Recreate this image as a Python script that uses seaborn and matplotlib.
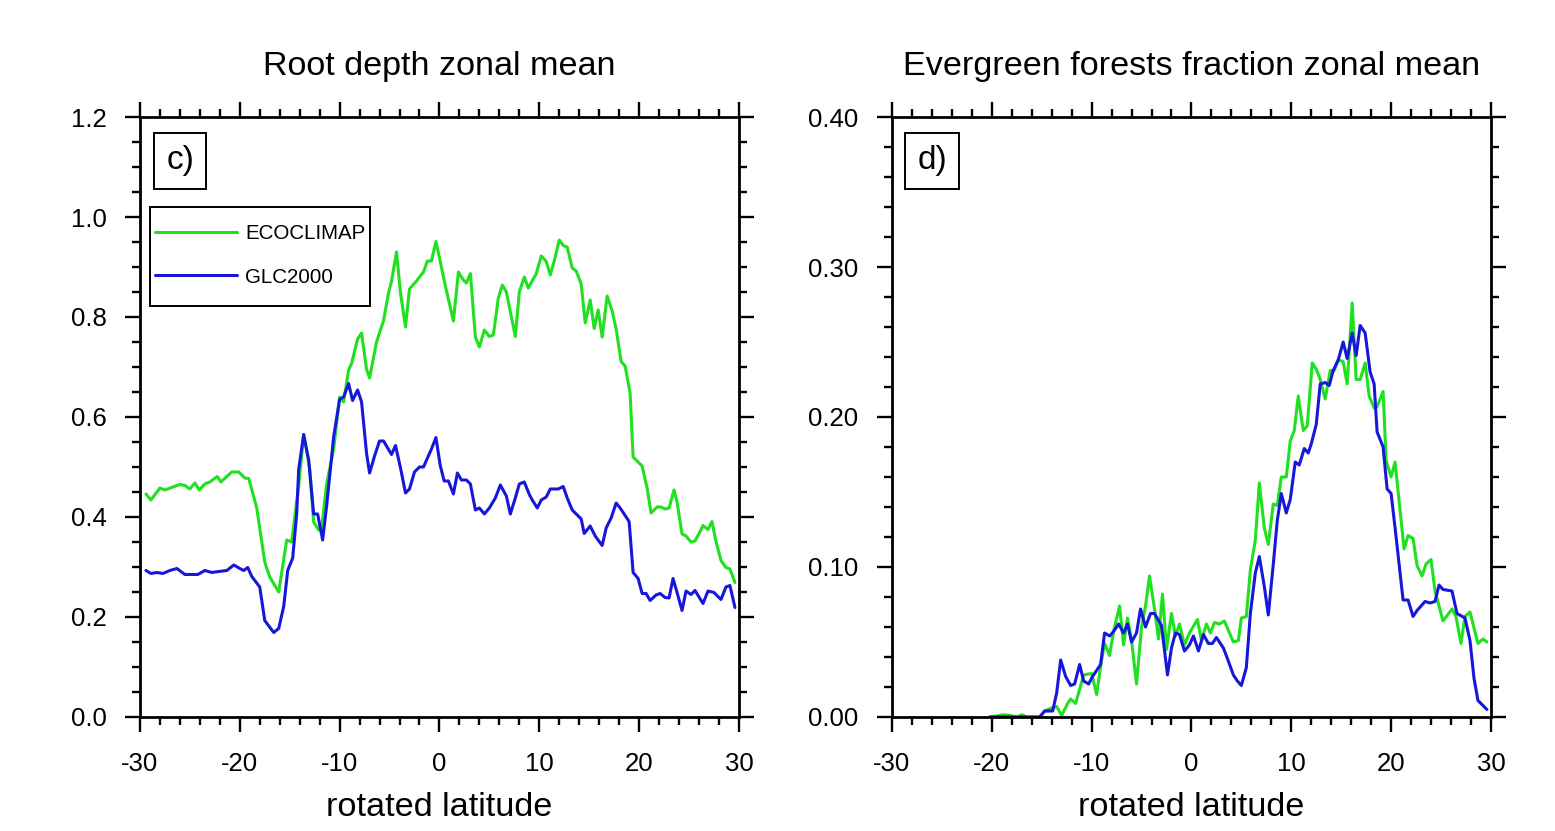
import numpy as np
import pandas as pd
import matplotlib
matplotlib.use("Agg")
import matplotlib.pyplot as plt
from matplotlib.patches import Rectangle
from matplotlib.ticker import MultipleLocator, FormatStrFormatter
import seaborn as sns

# Root depth zonal mean (panel c)
root_eco_lat = [-29.4, -28.9, -28.0, -27.5, -26.7, -26.0, -25.5, -25.0, -24.5, -24.05,
                -23.5, -23.0, -22.25, -21.9, -21.3, -20.8, -20.1, -19.5, -19.1, -18.3,
                -17.5, -17.0, -16.1, -15.3, -14.8, -14.1, -13.6, -13.0, -12.6, -12.1,
                -11.8, -11.3, -10.6, -10.0, -9.6, -9.1, -8.8, -8.2, -7.8, -7.3,
                -7.0, -6.3, -5.6, -5.1, -4.8, -4.3, -3.9, -3.4, -3.0, -2.3,
                -1.6, -1.2, -0.8, -0.35, 0.07, 0.57, 1.4, 1.9, 2.4, 2.7,
                3.1, 3.6, 4.0, 4.5, 5.0, 5.4, 5.9, 6.3, 6.7, 7.2,
                7.6, 8.0, 8.5, 8.9, 9.7, 10.2, 10.7, 11.1, 11.5, 12.0,
                12.4, 12.8, 13.3, 13.7, 14.2, 14.6, 15.1, 15.5, 15.9, 16.3,
                16.8, 17.3, 17.7, 18.2, 18.6, 19.1, 19.4, 19.9, 20.3, 20.8,
                21.2, 21.8, 22.2, 22.6, 23.0, 23.5, 23.8, 24.3, 24.7, 25.2,
                25.6, 26.0, 26.4, 26.9, 27.3, 27.7, 28.2, 28.7, 29.1, 29.6]
root_eco = [0.446, 0.434, 0.458, 0.454, 0.460, 0.465, 0.463, 0.456, 0.468, 0.454,
            0.466, 0.470, 0.481, 0.470, 0.481, 0.490, 0.490, 0.478, 0.477, 0.418,
            0.310, 0.280, 0.250, 0.354, 0.350, 0.462, 0.565, 0.498, 0.390, 0.374,
            0.378, 0.466, 0.535, 0.640, 0.630, 0.694, 0.707, 0.756, 0.768, 0.695,
            0.678, 0.750, 0.793, 0.848, 0.872, 0.930, 0.848, 0.780, 0.856, 0.872,
            0.890, 0.912, 0.912, 0.951, 0.912, 0.864, 0.792, 0.890, 0.874, 0.868,
            0.887, 0.760, 0.740, 0.774, 0.761, 0.764, 0.838, 0.864, 0.850, 0.801,
            0.761, 0.850, 0.880, 0.858, 0.887, 0.922, 0.911, 0.884, 0.912, 0.954,
            0.943, 0.940, 0.898, 0.892, 0.866, 0.788, 0.834, 0.777, 0.814, 0.760,
            0.842, 0.812, 0.776, 0.711, 0.702, 0.647, 0.520, 0.510, 0.502, 0.458,
            0.408, 0.420, 0.420, 0.416, 0.418, 0.454, 0.430, 0.366, 0.362, 0.350,
            0.352, 0.367, 0.383, 0.375, 0.391, 0.351, 0.313, 0.299, 0.296, 0.269]

root_glc_lat = [-29.4, -28.9, -28.3, -27.7, -27.0, -26.3, -25.5, -24.8, -24.2, -23.5,
                -22.8, -22.1, -21.3, -20.6, -20.0, -19.6, -19.2, -18.8, -18.0, -17.5,
                -17.2, -16.6, -16.1, -15.6, -15.2, -14.7, -14.3, -14.1, -13.6, -13.1,
                -12.6, -12.2, -11.7, -11.3, -10.6, -10.0, -9.6, -9.1, -8.7, -8.2,
                -7.8, -7.3, -7.0, -6.5, -6.0, -5.6, -4.8, -4.4, -3.9, -3.4,
                -3.0, -2.5, -2.0, -1.6, -0.8, -0.35, 0.07, 0.47, 0.9, 1.4,
                1.8, 2.2, 2.7, 3.1, 3.6, 4.0, 4.5, 5.0, 5.6, 6.1,
                6.7, 7.1, 7.6, 8.0, 8.5, 9.0, 9.3, 9.8, 10.2, 10.7,
                11.1, 11.9, 12.4, 12.8, 13.3, 14.2, 14.5, 15.1, 15.6, 16.3,
                16.7, 17.2, 17.7, 18.1, 19.0, 19.4, 19.9, 20.3, 20.7, 21.1,
                21.7, 22.1, 22.6, 23.0, 23.4, 23.8, 24.3, 24.7, 25.2, 25.6,
                26.4, 26.9, 27.5, 28.2, 28.7, 29.1, 29.6]
root_glc = [0.293, 0.287, 0.289, 0.287, 0.293, 0.297, 0.285, 0.285, 0.285, 0.293,
            0.289, 0.291, 0.293, 0.304, 0.297, 0.293, 0.299, 0.281, 0.260, 0.193,
            0.185, 0.169, 0.177, 0.221, 0.293, 0.318, 0.406, 0.495, 0.565, 0.514,
            0.406, 0.406, 0.354, 0.422, 0.560, 0.635, 0.640, 0.667, 0.633, 0.654,
            0.630, 0.527, 0.488, 0.522, 0.552, 0.552, 0.525, 0.543, 0.498, 0.448,
            0.456, 0.490, 0.500, 0.500, 0.536, 0.559, 0.504, 0.472, 0.472, 0.446,
            0.488, 0.474, 0.474, 0.466, 0.414, 0.418, 0.406, 0.418, 0.438, 0.464,
            0.442, 0.406, 0.438, 0.466, 0.470, 0.445, 0.434, 0.418, 0.434, 0.440,
            0.456, 0.456, 0.461, 0.438, 0.414, 0.396, 0.367, 0.382, 0.362, 0.343,
            0.378, 0.398, 0.428, 0.418, 0.391, 0.289, 0.277, 0.247, 0.247, 0.233,
            0.244, 0.247, 0.239, 0.238, 0.277, 0.249, 0.213, 0.252, 0.245, 0.253,
            0.227, 0.252, 0.249, 0.235, 0.260, 0.263, 0.219]

# Evergreen forests fraction zonal mean (panel d)
ever_eco_lat = [-20.2, -18.8, -18.2, -17.5, -17.0, -16.5, -15.2, -14.7, -14.0, -13.5,
                -13.0, -12.4, -12.1, -11.6, -10.8, -10.0, -9.5, -9.0, -8.7, -8.2,
                -7.8, -7.2, -6.8, -6.4, -6.0, -5.5, -5.0, -4.6, -4.2, -3.7,
                -3.3, -2.9, -2.5, -2.0, -1.6, -1.2, -0.7, -0.2, 0.6, 1.0,
                1.5, 1.9, 2.3, 2.8, 3.3, 4.2, 4.7, 5.0, 5.5, 5.9,
                6.4, 6.8, 7.3, 7.7, 8.2, 8.6, 9.0, 9.5, 9.9, 10.3,
                10.7, 11.2, 11.6, 12.1, 12.5, 12.9, 13.4, 13.9, 14.3, 14.7,
                15.2, 15.6, 16.1, 16.5, 16.9, 17.4, 17.8, 18.3, 18.6, 19.2,
                19.5, 20.0, 20.4, 20.8, 21.3, 21.7, 22.2, 22.6, 23.1, 23.5,
                24.0, 24.4, 25.2, 26.1, 26.5, 27.0, 27.4, 27.9, 28.7, 29.2,
                29.6]
ever_eco = [0.000, 0.0015, 0.001, 0.000, 0.0015, 0.000, 0.000, 0.004, 0.006, 0.007,
            0.001, 0.009, 0.012, 0.009, 0.028, 0.029, 0.015, 0.038, 0.049, 0.041,
            0.057, 0.074, 0.048, 0.066, 0.051, 0.022, 0.060, 0.074, 0.094, 0.072,
            0.052, 0.082, 0.045, 0.069, 0.054, 0.062, 0.048, 0.056, 0.065, 0.051,
            0.062, 0.056, 0.063, 0.062, 0.064, 0.050, 0.051, 0.066, 0.067, 0.098,
            0.118, 0.156, 0.126, 0.115, 0.142, 0.141, 0.160, 0.160, 0.184, 0.191,
            0.214, 0.191, 0.194, 0.236, 0.232, 0.225, 0.212, 0.231, 0.231, 0.238,
            0.237, 0.222, 0.276, 0.225, 0.225, 0.236, 0.214, 0.206, 0.207, 0.217,
            0.171, 0.160, 0.170, 0.144, 0.112, 0.121, 0.119, 0.101, 0.094, 0.102,
            0.105, 0.084, 0.064, 0.072, 0.067, 0.049, 0.067, 0.070, 0.049, 0.052,
            0.050]

ever_glc_lat = [-20.2, -15.2, -14.7, -13.9, -13.5, -13.1, -12.6, -12.1, -11.7, -11.2,
                -10.8, -10.3, -9.9, -9.5, -9.1, -8.7, -8.2, -7.8, -7.3, -6.8,
                -6.4, -6.0, -5.5, -5.1, -4.6, -4.1, -3.7, -3.0, -2.4, -2.0,
                -1.6, -1.2, -0.7, -0.2, 0.2, 0.7, 1.2, 1.7, 2.1, 2.5,
                3.2, 3.6, 4.2, 4.6, 5.0, 5.5, 5.9, 6.4, 6.8, 7.3,
                7.7, 8.2, 8.6, 9.0, 9.5, 9.9, 10.4, 10.8, 11.3, 11.7,
                12.0, 12.5, 12.9, 13.4, 13.8, 14.2, 14.7, 15.2, 15.6, 16.1,
                16.5, 16.9, 17.4, 17.9, 18.3, 18.6, 19.2, 19.6, 20.0, 20.4,
                21.2, 21.7, 22.2, 22.6, 23.4, 23.9, 24.4, 24.8, 25.2, 26.1,
                26.6, 27.4, 27.9, 28.3, 28.7, 29.6]
ever_glc = [0.000, 0.000, 0.004, 0.004, 0.016, 0.038, 0.027, 0.021, 0.022, 0.035,
            0.024, 0.022, 0.027, 0.031, 0.035, 0.056, 0.054, 0.057, 0.062, 0.056,
            0.062, 0.050, 0.056, 0.072, 0.060, 0.069, 0.069, 0.061, 0.028, 0.046,
            0.056, 0.055, 0.044, 0.048, 0.054, 0.044, 0.055, 0.049, 0.049, 0.053,
            0.046, 0.039, 0.028, 0.024, 0.021, 0.033, 0.069, 0.096, 0.107, 0.087,
            0.068, 0.102, 0.131, 0.149, 0.136, 0.145, 0.170, 0.168, 0.179, 0.176,
            0.182, 0.195, 0.222, 0.223, 0.221, 0.231, 0.238, 0.250, 0.239, 0.256,
            0.241, 0.261, 0.256, 0.230, 0.222, 0.190, 0.180, 0.152, 0.149, 0.126,
            0.078, 0.078, 0.067, 0.071, 0.077, 0.076, 0.077, 0.088, 0.085, 0.084,
            0.069, 0.066, 0.051, 0.026, 0.011, 0.005]

GREEN = "#1fe11f"
BLUE = "#1717dc"
palette = {"ECOCLIMAP": GREEN, "GLC2000": BLUE}

sns.set_style("white")
plt.rcParams["font.family"] = ["Liberation Sans", "DejaVu Sans"]
plt.rcParams["axes.unicode_minus"] = False
for key in ["text.color", "axes.labelcolor", "xtick.color", "ytick.color", "axes.edgecolor"]:
    plt.rcParams[key] = "black"


def long_frame(eco_lat, eco, glc_lat, glc):
    a = pd.DataFrame({"lat": eco_lat, "val": eco, "src": "ECOCLIMAP"})
    b = pd.DataFrame({"lat": glc_lat, "val": glc, "src": "GLC2000"})
    return pd.concat([a, b], ignore_index=True)


def style_axes(ax, ymax, ymajor, yminor, yfmt, title, tag):
    ax.set_xlim(-30, 30)
    ax.set_ylim(0, ymax)
    ax.xaxis.set_major_locator(MultipleLocator(10))
    ax.xaxis.set_minor_locator(MultipleLocator(2))
    ax.yaxis.set_major_locator(MultipleLocator(ymajor))
    ax.yaxis.set_minor_locator(MultipleLocator(yminor))
    ax.yaxis.set_major_formatter(FormatStrFormatter(yfmt))
    ax.tick_params(which="both", direction="out", top=True, right=True,
                   bottom=True, left=True, color="black", width=1.7)
    ax.tick_params(which="major", length=11, labelsize=18.5)
    ax.tick_params(which="minor", length=5.5)
    ax.tick_params(axis="x", which="major", pad=14)
    ax.tick_params(axis="y", which="major", pad=13)
    for s in ax.spines.values():
        s.set_visible(True)
        s.set_color("black")
        s.set_linewidth(2.0)
    ax.set_xlabel("rotated latitude", fontsize=24.7, labelpad=12)
    ax.set_ylabel("")
    ax.set_title(title, fontsize=24.6, pad=30)
    ax.text(0.067, 0.927, tag, transform=ax.transAxes, fontsize=24,
            ha="center", va="center",
            bbox=dict(boxstyle="square,pad=0.37", facecolor="white",
                      edgecolor="black", linewidth=1.4))


fig = plt.figure(figsize=(15.55, 8.31), dpi=100)
ax1 = fig.add_axes([0.0900, 0.1372, 0.3852, 0.722])
ax2 = fig.add_axes([0.5736, 0.1372, 0.3852, 0.722])

df_root = long_frame(root_eco_lat, root_eco, root_glc_lat, root_glc)
sns.lineplot(data=df_root, x="lat", y="val", hue="src", palette=palette,
             estimator=None, linewidth=2.2, ax=ax1)
style_axes(ax1, 1.2, 0.2, 0.05, "%.1f", "Root depth zonal mean", "c)")
# legend without frame, then an NCL-like box drawn around it
leg = ax1.legend(loc="center left", bbox_to_anchor=(0.025, 0.7695), fontsize=14.8,
                 frameon=False, handlelength=4.0, handletextpad=0.4,
                 labelspacing=1.2, borderpad=0, borderaxespad=0)
ax1.add_patch(Rectangle((0.0167, 0.685), 0.367, 0.165, transform=ax1.transAxes,
                        facecolor="none", edgecolor="black", linewidth=1.4,
                        zorder=6, clip_on=False))

df_ever = long_frame(ever_eco_lat, ever_eco, ever_glc_lat, ever_glc)
sns.lineplot(data=df_ever, x="lat", y="val", hue="src", palette=palette,
             estimator=None, linewidth=2.2, ax=ax2, legend=False)
style_axes(ax2, 0.40, 0.10, 0.02, "%.2f", "Evergreen forests fraction zonal mean", "d)")

fig.savefig("out.png", dpi=100)
